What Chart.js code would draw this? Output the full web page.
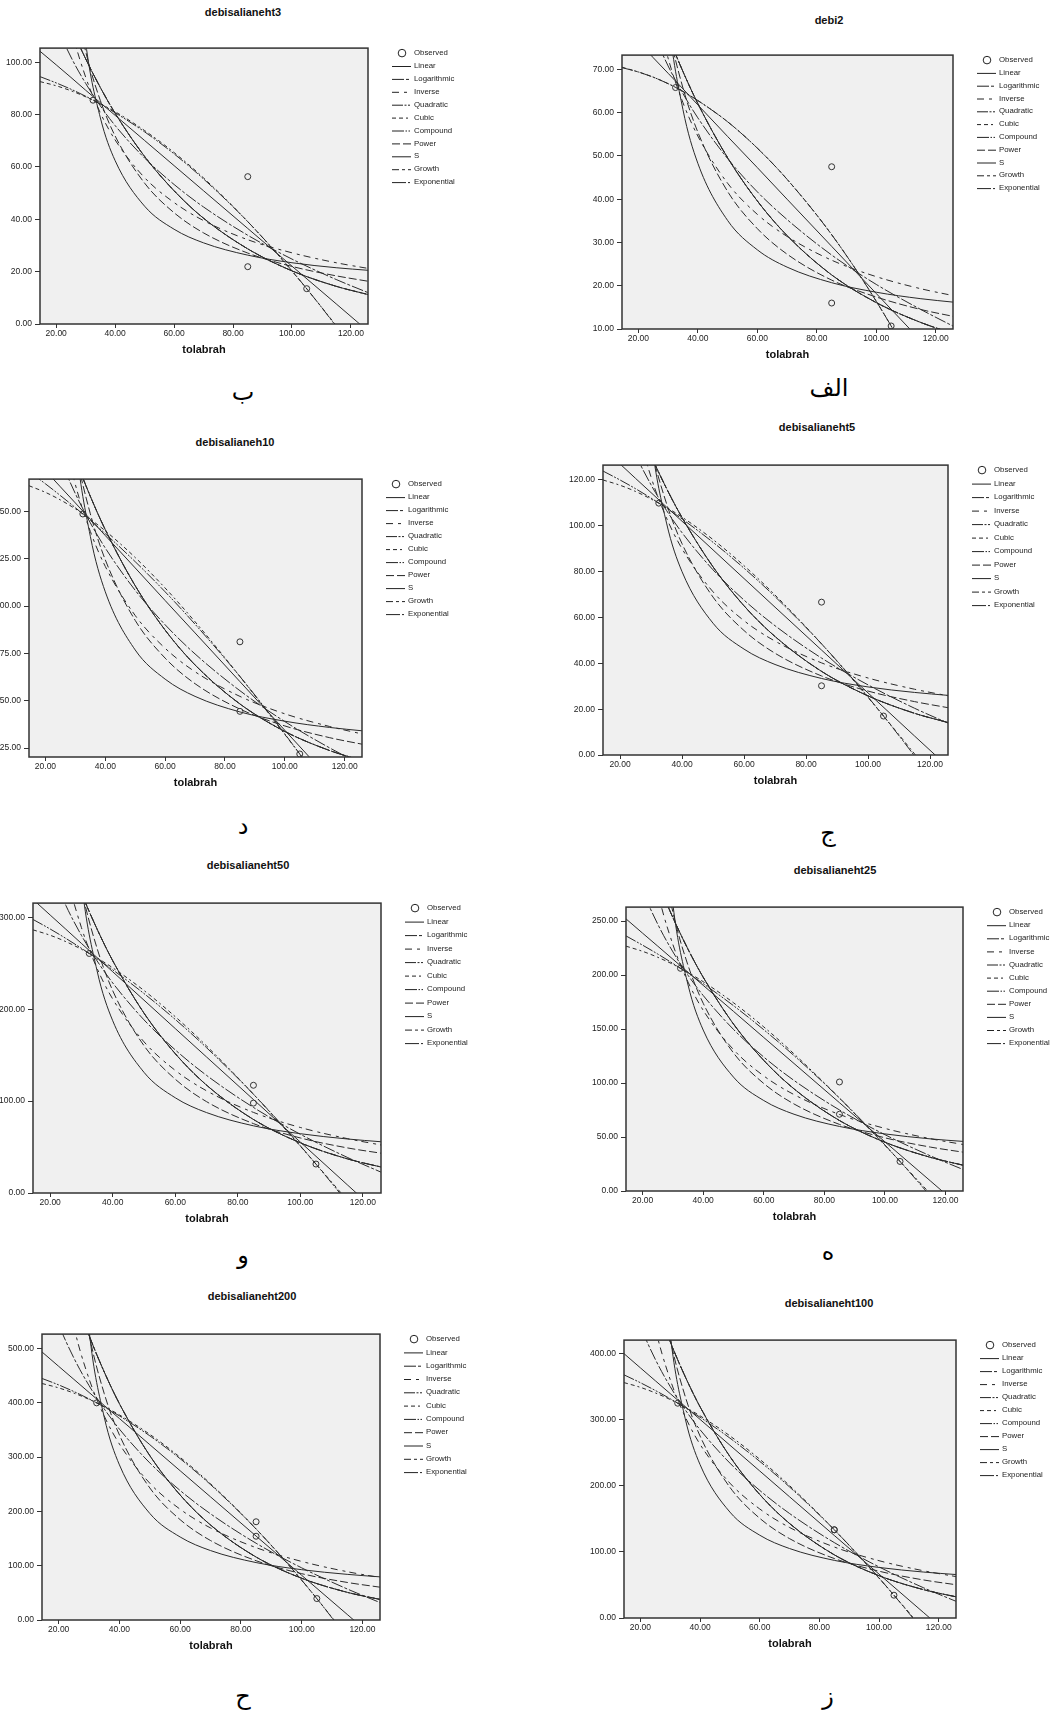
<!DOCTYPE html>
<html>
<head>
<meta charset="utf-8">
<script src="https://cdn.jsdelivr.net/npm/chart.js@4.4.0/dist/chart.umd.min.js"></script>
<style>
  body { margin: 0; background: #fff; width: 1052px; height: 1715px; position: relative; overflow: hidden;
         font-family: "Liberation Sans", Arial, sans-serif; }
  canvas.fit { position: absolute; }
  .ttl { position: absolute; font-weight: bold; font-size: 11px; line-height: 1; color: #111;
         transform: translate(-50%, -50%); white-space: nowrap; }
  .ar { position: absolute; font-family: "DejaVu Sans", sans-serif; font-size: 24px; line-height: 1; color: #000;
        transform: translate(-50%, -50%); white-space: nowrap; }
</style>
</head>
<body>
<script>
// x positions of the fitted curves (tolabrah) and of the observations
const tolabrah = [14.5, 20, 25, 30, 35, 40, 50, 60, 70, 85, 100, 115, 126];
const obsX = [32.5, 85, 85, 105];
const xTicks = [20, 40, 60, 80, 100, 120];

// debi2
const obs2 = [65.8, 47.5, 16.0, 10.7];
const lin2 = [80.4, 76.4, 72.7, 69.1, 65.5, 61.8, 54.5, 47.3, 40.0, 29.1, 18.2, 7.3, -0.7];
const log2 = [101.3, 87.8, 78.5, 70.8, 64.4, 58.8, 49.4, 41.7, 35.3, 27.1, 20.3, 14.5, 10.6];
const inv2 = [149.6, 108.6, 87.0, 72.6, 62.3, 54.6, 43.7, 36.5, 31.4, 25.9, 22.1, 19.3, 17.7];
const quad2 = [70.4, 69.4, 68.2, 66.7, 64.9, 62.8, 57.9, 51.8, 44.6, 31.8, 16.4, -1.5, -16.2];
const cub2 = [70.5, 69.4, 68.2, 66.7, 64.9, 62.8, 57.9, 51.8, 44.6, 31.8, 16.4, -1.5, -16.2];
const exp2 = [110.4, 97.5, 87.1, 77.8, 69.5, 62.1, 49.6, 39.6, 31.6, 22.5, 16.1, 11.5, 8.9];
const pow2 = [201.0, 133.6, 100.7, 79.9, 65.7, 55.5, 41.8, 33.2, 27.3, 21.3, 17.4, 14.5, 12.9];
const s2 = [809.5, 239.9, 126.4, 82.4, 60.7, 48.3, 35.1, 28.3, 24.3, 20.7, 18.5, 17.0, 16.2];
const ticks2 = [10, 20, 30, 40, 50, 60, 70];

// debisalianeht3
const obs3 = [85.5, 56.3, 21.9, 13.5];
const lin3 = [104.2, 99.0, 94.2, 89.3, 84.5, 79.7, 70.1, 60.5, 50.9, 36.5, 22.1, 7.7, -2.9];
const log3 = [132.3, 114.4, 102.0, 91.9, 83.3, 75.8, 63.4, 53.3, 44.7, 33.9, 24.8, 17.0, 11.9];
const inv3 = [196.9, 142.3, 113.5, 94.3, 80.6, 70.3, 55.9, 46.4, 39.5, 32.2, 27.2, 23.4, 21.2];
const quad3 = [94.5, 92.1, 89.7, 87.0, 84.0, 80.7, 73.4, 65.0, 55.4, 39.1, 20.3, -0.9, -18.1];
const cub3 = [92.6, 91.0, 89.1, 86.8, 84.1, 81.1, 73.9, 65.5, 55.8, 39.1, 20.2, -0.6, -16.8];
const exp3 = [144.6, 127.4, 113.6, 101.3, 90.3, 80.5, 64.0, 50.9, 40.4, 28.7, 20.3, 14.4, 11.2];
const pow3 = [266.2, 175.7, 131.7, 104.1, 85.3, 71.8, 53.8, 42.5, 34.8, 27.1, 22.0, 18.4, 16.3];
const s3 = [1101.8, 319.2, 166.1, 107.5, 78.7, 62.4, 45.0, 36.2, 31.0, 26.3, 23.4, 21.5, 20.5];
const ticks3 = [0, 20, 40, 60, 80, 100];

// debisalianeht5
const obs5 = [109.9, 66.7, 30.2, 17.0];
const lin5 = [133.8, 127.0, 120.7, 114.5, 108.2, 102.0, 89.5, 77.0, 64.5, 45.8, 27.1, 8.3, -5.4];
const log5 = [170.7, 147.3, 131.1, 117.9, 106.7, 97.0, 80.8, 67.6, 56.4, 42.3, 30.6, 20.4, 13.8];
const inv5 = [255.2, 183.9, 146.3, 121.3, 103.4, 90.0, 71.2, 58.6, 49.7, 40.2, 33.6, 28.7, 25.8];
const quad5 = [123.9, 120.0, 116.2, 112.1, 107.7, 103.0, 92.8, 81.5, 69.1, 48.5, 25.3, -0.4, -20.8];
const cub5 = [120.0, 117.7, 115.0, 111.7, 108.0, 103.8, 94.0, 82.6, 69.8, 48.5, 25.1, 0.5, -18.0];
const exp5 = [187.0, 164.6, 146.6, 130.6, 116.3, 103.6, 82.1, 65.1, 51.7, 36.5, 25.8, 18.2, 14.1];
const pow5 = [346.2, 227.6, 170.2, 134.1, 109.7, 92.2, 68.9, 54.3, 44.4, 34.5, 27.9, 23.3, 20.6];
const s5 = [1451.0, 415.6, 215.0, 138.5, 101.2, 80.0, 57.5, 46.2, 39.5, 33.4, 29.7, 27.3, 26.0];
const ticks5 = [0, 20, 40, 60, 80, 100, 120];

// debisalianeh10
const obs10 = [148.6, 81.1, 44.4, 21.9];
const lin10 = [180.9, 171.5, 162.9, 154.4, 145.8, 137.2, 120.1, 102.9, 85.8, 60.1, 34.4, 8.6, -10.2];
const log10 = [231.9, 199.8, 177.5, 159.3, 143.9, 130.6, 108.3, 90.1, 74.7, 55.3, 39.0, 25.1, 16.0];
const inv10 = [348.9, 250.5, 198.7, 164.1, 139.4, 120.9, 95.0, 77.7, 65.3, 52.3, 43.1, 36.4, 32.4];
const quad10 = [170.9, 164.5, 158.3, 151.9, 145.2, 138.2, 123.4, 107.5, 90.4, 62.8, 32.5, -0.2, -25.8];
const cub10 = [163.5, 160.0, 156.0, 151.3, 145.8, 139.7, 125.6, 109.5, 91.7, 62.8, 32.2, 1.4, -20.6];
const exp10 = [256.8, 225.4, 200.2, 177.8, 157.9, 140.3, 110.7, 87.3, 68.9, 48.3, 33.8, 23.7, 18.3];
const pow10 = [481.0, 313.4, 232.8, 182.6, 148.7, 124.4, 92.4, 72.5, 59.0, 45.6, 36.7, 30.5, 27.0];
const s10 = [2072.8, 578.4, 295.1, 188.4, 136.8, 107.5, 76.8, 61.4, 52.3, 44.1, 39.2, 35.9, 34.1];
const ticks10 = [25, 50, 75, 100, 125, 150];

// debisalianeht25
const obs25 = [206.3, 101.0, 71.1, 27.4];
const lin25 = [252.1, 238.8, 226.8, 214.7, 202.6, 190.5, 166.4, 142.2, 118.1, 81.8, 45.6, 9.4, -17.2];
const log25 = [323.7, 278.5, 247.1, 221.5, 199.8, 181.1, 149.7, 124.1, 102.4, 75.1, 52.2, 32.6, 19.7];
const inv25 = [488.1, 349.8, 276.8, 228.2, 193.5, 167.4, 131.0, 106.6, 89.3, 70.9, 58.0, 48.5, 43.0];
const quad25 = [236.3, 227.7, 219.5, 210.8, 201.7, 192.1, 171.7, 149.4, 125.4, 86.1, 42.7, -4.6, -41.8];
const cub25 = [226.8, 222.0, 216.5, 210.0, 202.4, 193.9, 174.4, 152.0, 127.0, 86.1, 42.3, -2.5, -35.1];
const exp25 = [371.0, 324.0, 286.4, 253.2, 223.9, 198.0, 154.7, 121.0, 94.6, 65.3, 45.2, 31.2, 23.8];
const pow25 = [701.7, 451.0, 331.8, 258.2, 208.9, 173.9, 127.9, 99.6, 80.6, 61.7, 49.3, 40.7, 35.9];
const s25 = [3107.2, 838.3, 420.2, 265.1, 190.8, 149.1, 105.5, 83.8, 71.1, 59.8, 52.9, 48.3, 45.9];
const ticks25 = [0, 50, 100, 150, 200, 250];

// debisalianeht50
const obs50 = [260.6, 117.2, 97.8, 31.5];
const lin50 = [319.4, 302.4, 287.0, 271.5, 256.1, 240.7, 209.8, 178.9, 148.0, 101.7, 55.4, 9.0, -24.9];
const log50 = [410.8, 353.0, 312.9, 280.2, 252.5, 228.5, 188.4, 155.7, 128.0, 93.1, 63.9, 38.8, 22.4];
const inv50 = [620.6, 443.9, 350.8, 288.7, 244.3, 211.0, 164.5, 133.4, 111.2, 87.7, 71.3, 59.2, 52.1];
const quad50 = [297.6, 287.2, 277.0, 266.2, 254.8, 242.8, 217.0, 188.8, 158.1, 107.5, 51.4, -10.2, -58.8];
const cub50 = [286.3, 280.4, 273.5, 265.2, 255.7, 245.0, 220.3, 191.8, 160.0, 107.5, 50.9, -7.7, -50.9];
const exp50 = [484.7, 421.1, 370.6, 326.2, 287.1, 252.7, 195.7, 151.6, 117.4, 80.0, 54.6, 37.2, 28.1];
const pow50 = [930.1, 589.1, 429.1, 331.2, 266.1, 220.1, 160.3, 123.8, 99.4, 75.5, 59.9, 49.1, 43.2];
const s50 = [4272.6, 1108.9, 544.6, 338.9, 241.6, 187.4, 131.3, 103.6, 87.5, 73.1, 64.5, 58.8, 55.7];
const ticks50 = [0, 100, 200, 300];

// debisalianeht100
const obs100 = [325.0, 133.5, 133.5, 34.5];
const lin100 = [400.0, 378.5, 359.0, 339.5, 320.0, 300.5, 261.5, 222.5, 183.4, 124.9, 66.4, 7.9, -35.0];
const log100 = [514.9, 442.0, 391.4, 350.1, 315.2, 284.9, 234.4, 193.1, 158.1, 114.1, 77.3, 45.6, 24.9];
const inv100 = [778.8, 556.2, 438.9, 360.6, 304.7, 262.8, 204.1, 165.0, 137.0, 107.4, 86.7, 71.4, 62.5];
const quad100 = [367.9, 356.0, 344.3, 331.7, 318.1, 303.7, 272.2, 237.0, 198.3, 133.5, 60.6, -20.4, -84.9];
const cub100 = [356.2, 349.0, 340.6, 330.6, 319.0, 305.9, 275.6, 240.2, 200.3, 133.5, 60.1, -17.9, -76.7];
const exp100 = [633.0, 546.2, 477.7, 417.8, 365.4, 319.5, 244.4, 186.9, 143.0, 95.6, 64.0, 42.8, 31.9];
const pow100 = [1239.6, 769.5, 552.7, 421.8, 335.6, 275.3, 197.8, 150.9, 120.1, 90.0, 70.8, 57.5, 50.2];
const s100 = [5991.5, 1473.9, 703.6, 429.8, 302.2, 232.1, 160.3, 125.3, 105.1, 87.2, 76.5, 69.5, 65.7];
const ticks100 = [0, 100, 200, 300, 400];

// debisalianeht200
const obs200 = [400.0, 181.0, 154.3, 39.5];
const lin200 = [493.8, 467.3, 443.3, 419.2, 395.2, 371.1, 323.0, 274.9, 226.8, 154.6, 82.4, 10.3, -42.7];
const log200 = [634.5, 544.8, 482.6, 431.8, 388.8, 351.6, 289.4, 238.5, 195.6, 141.4, 96.1, 57.2, 31.7];
const inv200 = [957.9, 684.5, 540.3, 444.2, 375.6, 324.1, 252.0, 204.0, 169.6, 133.3, 107.9, 89.0, 78.1];
const quad200 = [445.0, 433.1, 420.9, 407.3, 392.4, 376.0, 339.3, 297.1, 249.4, 167.7, 73.6, -32.8, -118.6];
const cub200 = [435.7, 427.6, 418.0, 406.5, 393.1, 377.8, 342.0, 299.6, 251.0, 167.7, 73.2, -30.8, -112.1];
const exp200 = [801.5, 689.3, 601.0, 524.0, 456.9, 398.4, 302.8, 230.2, 175.0, 116.0, 76.9, 51.0, 37.7];
const pow200 = [1577.6, 970.7, 693.0, 526.2, 417.0, 340.8, 243.3, 184.8, 146.4, 109.2, 85.4, 69.2, 60.3];
const s200 = [7738.7, 1864.7, 880.5, 533.9, 373.5, 285.7, 196.3, 152.9, 127.9, 105.8, 92.7, 84.1, 79.4];
const ticks200 = [0, 100, 200, 300, 400, 500];

// where each panel sits on the page (plot rectangle L,R,T,B)
const panels = [
  { title: 'debi2', letter: 'الف', L: 622, R: 953, T: 52, B: 329, yMin: 10, yMax: 73.3, step: 12.8, tx: 829, ty: 20, lx: 829, ly: 388,
    yTicks: ticks2, obs: obs2, fits: [lin2, log2, inv2, quad2, cub2, exp2, pow2, s2] },
  { title: 'debisalianeht3', letter: 'ب', L: 40, R: 368, T: 45, B: 324, yMin: 0, yMax: 105.4, step: 12.9, tx: 243, ty: 12, lx: 243, ly: 392,
    yTicks: ticks3, obs: obs3, fits: [lin3, log3, inv3, quad3, cub3, exp3, pow3, s3] },
  { title: 'debisalianeht5', letter: 'ج', L: 603, R: 948, T: 462, B: 755, yMin: 0, yMax: 126.5, step: 13.5, tx: 817, ty: 427, lx: 828, ly: 833,
    yTicks: ticks5, obs: obs5, fits: [lin5, log5, inv5, quad5, cub5, exp5, pow5, s5] },
  { title: 'debisalianeh10', letter: 'د', L: 29, R: 362, T: 476, B: 757, yMin: 20.3, yMax: 167, step: 13.0, tx: 235, ty: 442, lx: 243, ly: 826,
    yTicks: ticks10, obs: obs10, fits: [lin10, log10, inv10, quad10, cub10, exp10, pow10, s10] },
  { title: 'debisalianeht25', letter: 'ه', L: 626, R: 963, T: 904, B: 1191, yMin: 0, yMax: 263, step: 13.1, tx: 835, ty: 870, lx: 828, ly: 1252,
    yTicks: ticks25, obs: obs25, fits: [lin25, log25, inv25, quad25, cub25, exp25, pow25, s25] },
  { title: 'debisalianeht50', letter: 'و', L: 33, R: 381, T: 900, B: 1193, yMin: 0, yMax: 315.4, step: 13.5, tx: 248, ty: 865, lx: 243, ly: 1255,
    yTicks: ticks50, obs: obs50, fits: [lin50, log50, inv50, quad50, cub50, exp50, pow50, s50] },
  { title: 'debisalianeht100', letter: 'ز', L: 624, R: 956, T: 1337, B: 1618, yMin: 0, yMax: 420.5, step: 13.0, tx: 829, ty: 1303, lx: 828, ly: 1696,
    yTicks: ticks100, obs: obs100, fits: [lin100, log100, inv100, quad100, cub100, exp100, pow100, s100] },
  { title: 'debisalianeht200', letter: 'ح', L: 42, R: 380, T: 1331, B: 1620, yMin: 0, yMax: 526.7, step: 13.3, tx: 252, ty: 1296, lx: 243, ly: 1696,
    yTicks: ticks200, obs: obs200, fits: [lin200, log200, inv200, quad200, cub200, exp200, pow200, s200] }
];

// legend entries: name, which fit it shows, dash pattern
const models = [
  ['Linear', 0, []],
  ['Logarithmic', 1, [12, 2, 3, 2]],
  ['Inverse', 2, [7, 5, 3, 4]],
  ['Quadratic', 3, [11, 1.5, 2, 1.5, 2, 1.5]],
  ['Cubic', 4, [4, 3, 4, 3, 2, 3]],
  ['Compound', 5, [12, 1.5, 1.5, 1.5, 1.5, 1.5]],
  ['Power', 6, [8, 3]],
  ['S', 7, []],
  ['Growth', 5, [7, 3, 3, 3]],
  ['Exponential', 5, [14, 2, 2, 2]]
];

Chart.defaults.font.family = '"Liberation Sans", Arial, sans-serif';
Chart.defaults.color = '#222';

const plotFrame = {
  id: 'plotFrame',
  beforeDatasetsDraw(chart) {
    const a = chart.chartArea, ctx = chart.ctx;
    ctx.save();
    ctx.fillStyle = '#f0f0f0';
    ctx.fillRect(a.left, a.top, a.right - a.left, a.bottom - a.top);
    ctx.restore();
  },
  afterDraw(chart) {
    const a = chart.chartArea, ctx = chart.ctx;
    ctx.save();
    ctx.strokeStyle = '#333';
    ctx.lineWidth = 1.5;
    ctx.strokeRect(a.left, a.top, a.right - a.left, a.bottom - a.top);
    ctx.restore();
  }
};

const curveLegend = {
  id: 'curveLegend',
  afterDraw(chart) {
    const a = chart.chartArea, ctx = chart.ctx;
    const step = chart.options.plugins.curveLegend.step;
    const x0 = a.right + 24;
    ctx.save();
    ctx.font = '7.8px "Liberation Sans", Arial, sans-serif';
    ctx.fillStyle = '#222';
    ctx.strokeStyle = '#222';
    ctx.lineWidth = 1;
    ctx.textBaseline = 'middle';
    chart.data.datasets.forEach((ds, i) => {
      const y = a.top + 5 + i * step;
      ctx.beginPath();
      if (ds.showLine) {
        ctx.setLineDash(ds.borderDash);
        ctx.moveTo(x0, y + 0.5);
        ctx.lineTo(x0 + 19, y + 0.5);
      } else {
        ctx.setLineDash([]);
        ctx.arc(x0 + 10, y, 3.8, 0, Math.PI * 2);
      }
      ctx.stroke();
      ctx.fillText(ds.label, x0 + 22, y);
    });
    ctx.restore();
  }
};

panels.forEach(p => {
  const legendW = 95, axisW = 45, axisH = 33, padTop = 5;
  const cv = document.createElement('canvas');
  cv.className = 'fit';
  cv.width = (p.R - p.L) + axisW + legendW;
  cv.height = (p.B - p.T) + padTop + axisH;
  cv.style.left = (p.L - axisW) + 'px';
  cv.style.top = (p.T - padTop) + 'px';
  document.body.appendChild(cv);

  const t = document.createElement('div');
  t.className = 'ttl';
  t.textContent = p.title;
  t.style.left = p.tx + 'px';
  t.style.top = p.ty + 'px';
  document.body.appendChild(t);

  const l = document.createElement('div');
  l.className = 'ar';
  l.textContent = p.letter;
  l.style.left = p.lx + 'px';
  l.style.top = p.ly + 'px';
  document.body.appendChild(l);

  const datasets = [{
    label: 'Observed',
    data: obsX.map((x, i) => ({ x: x, y: p.obs[i] })),
    showLine: false,
    pointRadius: 3,
    pointStyle: 'circle',
    pointBorderColor: '#333',
    pointBackgroundColor: 'rgba(0,0,0,0)',
    pointBorderWidth: 1
  }];
  models.forEach(m => {
    const ys = p.fits[m[1]];
    datasets.push({
      label: m[0],
      data: tolabrah.map((x, i) => ({ x: x, y: ys[i] })),
      showLine: true,
      pointRadius: 0,
      borderColor: '#2b2b2b',
      borderWidth: 1,
      borderDash: m[2],
      cubicInterpolationMode: 'monotone',
      fill: false
    });
  });

  new Chart(cv.getContext('2d'), {
    type: 'scatter',
    data: { datasets: datasets },
    options: {
      responsive: false,
      animation: false,
      events: [],
      devicePixelRatio: 1,
      layout: { padding: { left: 0, top: padTop, right: legendW, bottom: 0 } },
      plugins: {
        legend: { display: false },
        tooltip: { enabled: false },
        curveLegend: { step: p.step }
      },
      scales: {
        x: {
          type: 'linear',
          min: 14.5,
          max: 125.8,
          afterBuildTicks: s => { s.ticks = xTicks.map(v => ({ value: v })); },
          afterFit: s => { s.height = axisH; },
          border: { display: false },
          grid: { drawOnChartArea: false, drawTicks: true, tickLength: 4, color: '#333' },
          ticks: { font: { size: 8.5 }, color: '#222', padding: 1, maxRotation: 0, autoSkip: false,
                   callback: v => Number(v).toFixed(2) },
          title: { display: true, text: 'tolabrah', color: '#111', font: { size: 11, weight: 'bold' }, padding: 0 }
        },
        y: {
          type: 'linear',
          min: p.yMin,
          max: p.yMax,
          afterBuildTicks: s => { s.ticks = p.yTicks.map(v => ({ value: v })); },
          afterFit: s => { s.width = axisW; },
          border: { display: false },
          grid: { drawOnChartArea: false, drawTicks: true, tickLength: 5, color: '#333' },
          ticks: { font: { size: 8.5 }, color: '#222', padding: 3, autoSkip: false,
                   callback: v => Number(v).toFixed(2) }
        }
      }
    },
    plugins: [plotFrame, curveLegend]
  });
});
</script>
</body>
</html>
